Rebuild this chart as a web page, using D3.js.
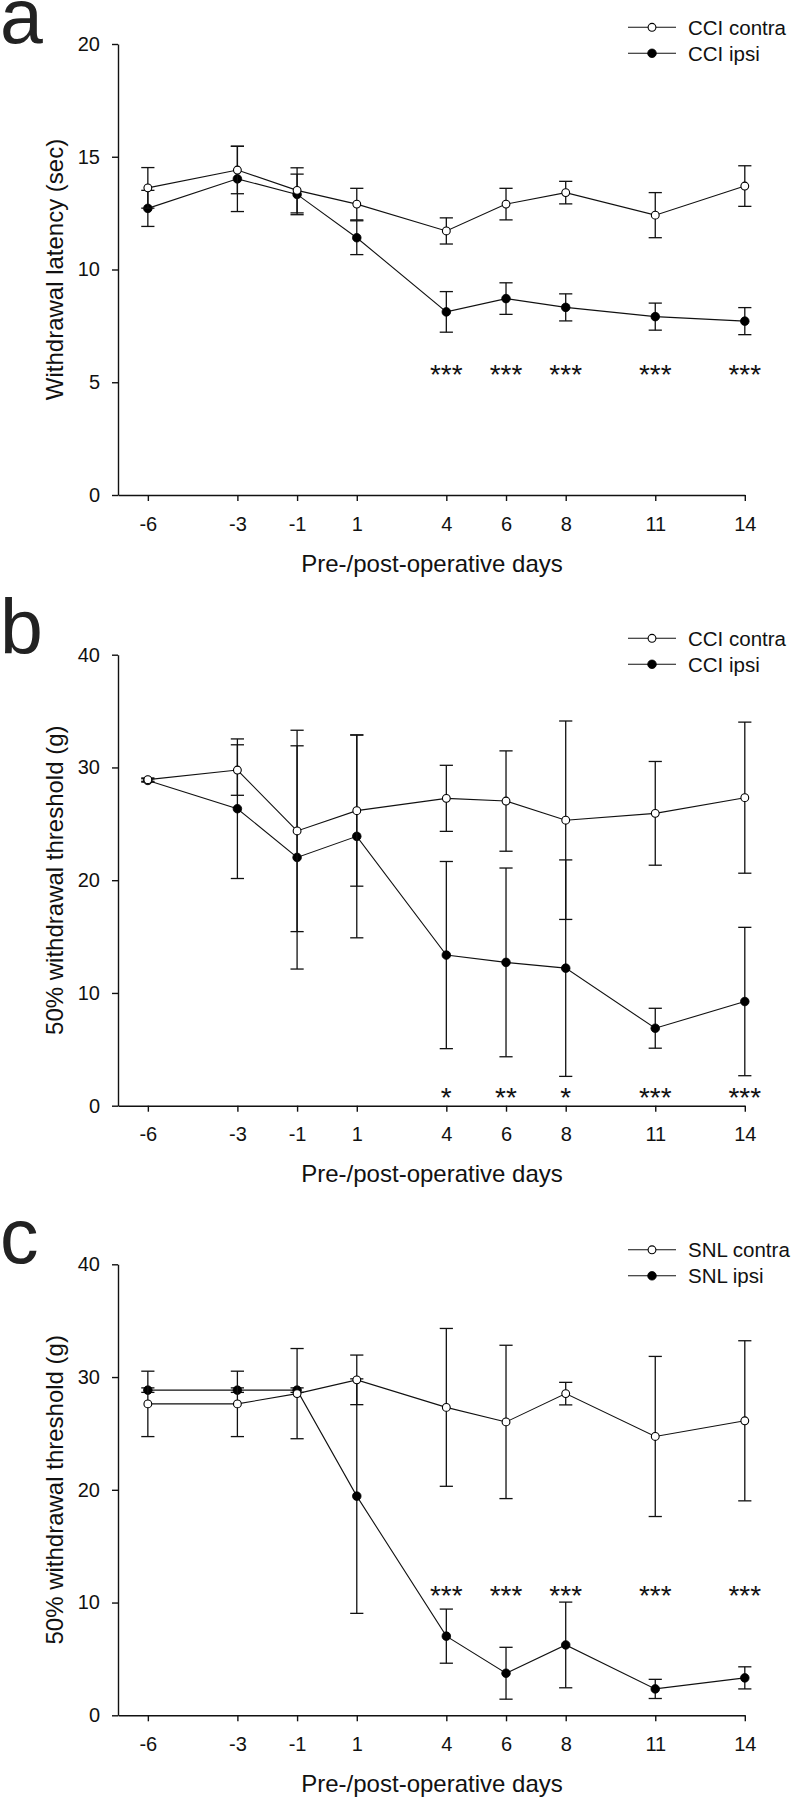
<!DOCTYPE html>
<html>
<head>
<meta charset="utf-8">
<script src="https://cdn.jsdelivr.net/npm/d3@7"></script>
<style>
  html, body { margin: 0; padding: 0; background: #ffffff; }
  svg { display: block; }
</style>
</head>
<body>
<script>
// ---------------- DATA ----------------
const days = [-6, -3, -1, 1, 4, 6, 8, 11, 14];
const dayLabels = ["-6", "-3", "-1", "1", "4", "6", "8", "11", "14"];

// Panel a: withdrawal latency (sec), CCI
const aContraMean = [13.62, 14.41, 13.51, 12.90, 11.71, 12.90, 13.41, 12.41, 13.70];
const aContraErr  = [0.90, 1.05, 1.00, 0.70, 0.58, 0.70, 0.50, 1.00, 0.90];
const aIpsiMean   = [12.71, 14.02, 13.33, 11.41, 8.12, 8.71, 8.32, 7.91, 7.71];
const aIpsiErr    = [0.80, 1.45, 0.90, 0.75, 0.90, 0.70, 0.60, 0.60, 0.60];
const aStars      = ["", "", "", "", "***", "***", "***", "***", "***"];
const aTicks      = [0, 5, 10, 15, 20];

// Panel b: 50% withdrawal threshold (g), CCI
const bContraMean = [28.92, 29.77, 24.37, 26.17, 27.26, 27.02, 25.32, 25.93, 27.32];
const bContraErr  = [0.15, 2.24, 8.93, 6.70, 2.93, 4.45, 8.80, 4.60, 6.70];
const bIpsiMean   = [28.85, 26.34, 22.02, 23.89, 13.36, 12.71, 12.20, 6.87, 9.24];
const bIpsiErr    = [0.15, 6.19, 9.90, 9.00, 8.30, 8.37, 9.60, 1.77, 6.58];
const bStars      = ["", "", "", "", "*", "**", "*", "***", "***"];
const bTicks      = [0, 10, 20, 30, 40];

// Panel c: 50% withdrawal threshold (g), SNL
const cContraMean = [27.62, 27.62, 28.53, 29.75, 27.31, 26.02, 28.53, 24.73, 26.12];
const cContraErr  = [2.90, 2.90, 4.00, 2.20, 7.00, 6.80, 1.00, 7.10, 7.10];
const cIpsiMean   = [28.84, 28.84, 28.84, 19.44, 7.02, 3.73, 6.24, 2.34, 3.32];
const cIpsiErr    = [0.20, 0.20, 0.20, 10.40, 2.40, 2.30, 3.80, 0.85, 0.98];
const cStars      = ["", "", "", "", "***", "***", "***", "***", "***"];
const cTicks      = [0, 10, 20, 30, 40];

// ---------------- LAYOUT ----------------
const FONT = "'Liberation Sans', Arial, Helvetica, sans-serif";
const W = 794, H = 1800;
const plotLeft = 118, plotRight = 744.8, plotH = 451;

const panels = [
  { letter: "a", top: 44.0, yMax: 20, ticks: aTicks, yTitle: "Withdrawal latency (sec)",
    contra: aContraMean, contraErr: aContraErr, ipsi: aIpsiMean, ipsiErr: aIpsiErr,
    stars: aStars, starLevel: 5.62, legendDy: -16.7, names: ["CCI contra", "CCI ipsi"] },
  { letter: "b", top: 654.7, yMax: 40, ticks: bTicks, yTitle: "50% withdrawal threshold (g)",
    contra: bContraMean, contraErr: bContraErr, ipsi: bIpsiMean, ipsiErr: bIpsiErr,
    stars: bStars, starLevel: 1.26, legendDy: -16.4, names: ["CCI contra", "CCI ipsi"] },
  { letter: "c", top: 1264.3, yMax: 40, ticks: cTicks, yTitle: "50% withdrawal threshold (g)",
    contra: cContraMean, contraErr: cContraErr, ipsi: cIpsiMean, ipsiErr: cIpsiErr,
    stars: cStars, starLevel: 11.16, legendDy: -14.5, names: ["SNL contra", "SNL ipsi"] }
];

const svg = d3.select("body").append("svg")
  .attr("width", W).attr("height", H)
  .attr("viewBox", `0 0 ${W} ${H}`)
  .style("font-family", FONT);

svg.append("rect").attr("width", W).attr("height", H).attr("fill", "#fff");

const x = d3.scaleLinear().domain([-7, 14]).range([plotLeft, plotRight]);

panels.forEach(p => {
  const g = svg.append("g").attr("class", "panel-" + p.letter);
  const y = d3.scaleLinear().domain([0, p.yMax]).range([p.top + plotH, p.top]);

  // panel letter
  g.append("text")
    .attr("x", 0).attr("y", p.top - 1)
    .attr("font-size", 77).attr("fill", "#222")
    .text(p.letter);

  // axes
  const yAxis = d3.axisLeft(y).tickValues(p.ticks).tickSize(6).tickSizeOuter(0).tickPadding(12)
    .tickFormat(d3.format("d"));
  const gy = g.append("g").attr("transform", `translate(${plotLeft},0)`).call(yAxis);
  const xAxis = d3.axisBottom(x).tickValues(days).tickSize(6).tickSizeOuter(0).tickPadding(15.3)
    .tickFormat((d, i) => dayLabels[i]);
  const gx = g.append("g").attr("transform", `translate(0,${p.top + plotH})`).call(xAxis);
  [gx, gy].forEach(a => {
    a.attr("font-family", FONT).attr("font-size", 20);
    a.selectAll("path, line").attr("stroke", "#111").attr("stroke-width", 1.4);
    a.selectAll("text").attr("fill", "#111");
  });

  // axis titles
  g.append("text")
    .attr("transform", `translate(62.5,${p.top + plotH / 2}) rotate(-90)`)
    .attr("text-anchor", "middle").attr("font-size", 24).attr("fill", "#111")
    .text(p.yTitle);
  g.append("text")
    .attr("x", 432).attr("y", p.top + plotH + 76.7)
    .attr("text-anchor", "middle").attr("font-size", 24).attr("fill", "#111")
    .text("Pre-/post-operative days");

  const series = [
    { mean: p.ipsi, err: p.ipsiErr, filled: true },
    { mean: p.contra, err: p.contraErr, filled: false }
  ];
  const line = d3.line().x(d => x(d.day)).y(d => y(d.v));
  const capHalf = 6.6;

  series.forEach(s => {
    const pts = days.map((d, i) => ({ day: d, v: s.mean[i], e: s.err[i] }));
    const sg = g.append("g");
    // error bars
    const eb = sg.selectAll(".eb").data(pts).enter().append("g")
      .attr("stroke", "#111").attr("stroke-width", 1.3);
    eb.append("line")
      .attr("x1", d => x(d.day)).attr("x2", d => x(d.day))
      .attr("y1", d => y(d.v - d.e)).attr("y2", d => y(d.v + d.e));
    eb.append("line")
      .attr("x1", d => x(d.day) - capHalf).attr("x2", d => x(d.day) + capHalf)
      .attr("y1", d => y(d.v + d.e)).attr("y2", d => y(d.v + d.e));
    eb.append("line")
      .attr("x1", d => x(d.day) - capHalf).attr("x2", d => x(d.day) + capHalf)
      .attr("y1", d => y(d.v - d.e)).attr("y2", d => y(d.v - d.e));
    // connecting line
    sg.append("path").datum(pts)
      .attr("d", line).attr("fill", "none")
      .attr("stroke", "#111").attr("stroke-width", 1.1);
    // markers
    sg.selectAll("circle").data(pts).enter().append("circle")
      .attr("cx", d => x(d.day)).attr("cy", d => y(d.v))
      .attr("r", s.filled ? 4.3 : 3.9)
      .attr("fill", s.filled ? "#000" : "#fff")
      .attr("stroke", "#000").attr("stroke-width", s.filled ? 0.8 : 1.1);
  });

  // significance stars
  const starSize = 28;
  g.selectAll(".star").data(days.map((d, i) => ({ day: d, s: p.stars[i] })).filter(d => d.s))
    .enter().append("text")
    .attr("x", d => x(d.day))
    .attr("y", y(p.starLevel) + 0.57 * starSize)
    .attr("text-anchor", "middle").attr("font-size", starSize).attr("fill", "#111")
    .text(d => d.s);

  // legend
  const ly0 = p.top + p.legendDy;
  [{ name: p.names[0], filled: false }, { name: p.names[1], filled: true }].forEach((it, k) => {
    const ly = ly0 + k * 26;
    g.append("line").attr("x1", 628).attr("x2", 676).attr("y1", ly).attr("y2", ly)
      .attr("stroke", "#111").attr("stroke-width", 1.1);
    g.append("circle").attr("cx", 652).attr("cy", ly)
      .attr("r", it.filled ? 4.3 : 3.9)
      .attr("fill", it.filled ? "#000" : "#fff")
      .attr("stroke", "#000").attr("stroke-width", it.filled ? 0.8 : 1.1);
    g.append("text").attr("x", 688).attr("y", ly + 7.5)
      .attr("font-size", 20.5).attr("fill", "#111")
      .text(it.name);
  });
});
</script>
</body>
</html>
